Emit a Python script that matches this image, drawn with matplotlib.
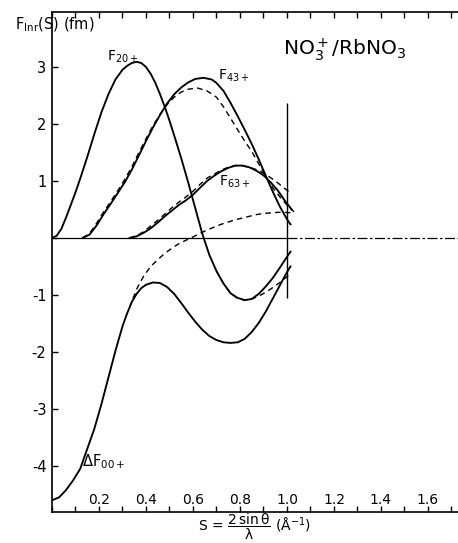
import matplotlib
matplotlib.use("Agg")
import matplotlib.pyplot as plt
from matplotlib.ticker import MultipleLocator, FixedLocator

plt.rcParams['font.family'] = ['DejaVu Sans']
plt.rcParams['mathtext.default'] = 'regular'

# S (1/A) and F (fm)
s_f20 = [0.00, 0.02, 0.04, 0.06, 0.08, 0.10, 0.12, 0.15, 0.18, 0.21, 0.24, 0.27, 0.30, 0.32,
         0.34, 0.36, 0.38, 0.40, 0.42, 0.44, 0.46, 0.48, 0.50, 0.52, 0.55, 0.58, 0.61, 0.64,
         0.67, 0.70, 0.73, 0.76, 0.79, 0.82, 0.85, 0.88, 0.91, 0.94, 0.97, 1.00, 1.015]
f20 = [0.00, 0.04, 0.16, 0.36, 0.58, 0.80, 1.04, 1.42, 1.82, 2.20, 2.52, 2.78, 2.95, 3.02,
       3.07, 3.09, 3.07, 3.00, 2.88, 2.72, 2.52, 2.30, 2.06, 1.80, 1.40, 0.97, 0.52, 0.07,
       -0.30, -0.58, -0.80, -0.97, -1.05, -1.09, -1.07, -0.98, -0.85, -0.70, -0.52, -0.33, -0.24]

s_f20_d = [0.70, 0.73, 0.76, 0.79, 0.82, 0.85, 0.88, 0.91, 0.94, 0.97, 1.00, 1.02]
f20_d = [-0.58, -0.80, -0.97, -1.06, -1.09, -1.07, -1.02, -0.95, -0.87, -0.78, -0.68, -0.62]

s_f43 = [0.13, 0.16, 0.19, 0.22, 0.25, 0.28, 0.31, 0.34, 0.37, 0.40, 0.43, 0.46, 0.49, 0.52,
         0.55, 0.58, 0.61, 0.645, 0.68, 0.70, 0.73, 0.76, 0.79, 0.82, 0.85, 0.88, 0.91, 0.94,
         0.97, 1.00, 1.015]
f43 = [0.00, 0.06, 0.22, 0.42, 0.60, 0.79, 0.98, 1.20, 1.45, 1.70, 1.94, 2.16, 2.36, 2.52,
       2.64, 2.73, 2.79, 2.81, 2.78, 2.72, 2.58, 2.37, 2.14, 1.90, 1.65, 1.38, 1.09, 0.81,
       0.55, 0.33, 0.24]

s_f43_d = [0.13, 0.16, 0.19, 0.22, 0.25, 0.28, 0.31, 0.34, 0.37, 0.40, 0.43, 0.46, 0.49, 0.52,
           0.55, 0.58, 0.62, 0.66, 0.70, 0.73, 0.76, 0.79, 0.82, 0.85, 0.88, 0.91, 0.94, 0.97,
           1.00, 1.03]
f43_d = [0.00, 0.08, 0.26, 0.46, 0.64, 0.83, 1.03, 1.25, 1.50, 1.74, 1.97, 2.17, 2.34, 2.47,
         2.56, 2.61, 2.63, 2.58, 2.47, 2.30, 2.10, 1.90, 1.70, 1.52, 1.30, 1.08, 0.88, 0.72,
         0.58, 0.46]

s_f63 = [0.33, 0.36, 0.39, 0.42, 0.45, 0.48, 0.51, 0.54, 0.57, 0.60, 0.63, 0.66, 0.69, 0.72,
         0.75, 0.78, 0.81, 0.84, 0.87, 0.90, 0.93, 0.96, 0.99, 1.02]
f63 = [0.00, 0.03, 0.09, 0.17, 0.27, 0.38, 0.48, 0.58, 0.66, 0.76, 0.88, 1.00, 1.09, 1.17,
       1.23, 1.27, 1.27, 1.24, 1.18, 1.10, 0.98, 0.84, 0.66, 0.50]

s_f63_d = s_f63
f63_d = [0.00, 0.04, 0.11, 0.21, 0.31, 0.42, 0.53, 0.63, 0.72, 0.82, 0.94, 1.05, 1.12, 1.19,
         1.24, 1.27, 1.27, 1.24, 1.20, 1.14, 1.06, 0.97, 0.87, 0.78]

s_f00 = [0.00, 0.03, 0.06, 0.09, 0.12, 0.15, 0.18, 0.21, 0.24, 0.27, 0.30, 0.32, 0.34, 0.36,
         0.38, 0.40, 0.43, 0.46, 0.49, 0.52, 0.55, 0.58, 0.61, 0.64, 0.67, 0.70, 0.73, 0.76,
         0.79, 0.82, 0.85, 0.88, 0.91, 0.94, 0.97, 1.00, 1.015]
f00 = [-4.60, -4.55, -4.42, -4.25, -4.05, -3.70, -3.35, -2.92, -2.45, -1.98, -1.55, -1.32,
       -1.12, -0.98, -0.88, -0.82, -0.78, -0.79, -0.86, -0.98, -1.14, -1.31, -1.47, -1.61,
       -1.72, -1.79, -1.83, -1.84, -1.83, -1.77, -1.65, -1.49, -1.29, -1.06, -0.83, -0.60, -0.50]

s_f00_d = [0.33, 0.36, 0.39, 0.42, 0.45, 0.48, 0.51, 0.54, 0.57, 0.60, 0.63, 0.66, 0.69, 0.72,
           0.75, 0.78, 0.81, 0.84, 0.87, 0.90, 0.93, 0.96, 0.99, 1.02]
f00_d = [-1.22, -0.90, -0.67, -0.50, -0.38, -0.27, -0.18, -0.10, -0.04, 0.02, 0.08, 0.14,
         0.19, 0.24, 0.28, 0.32, 0.35, 0.38, 0.41, 0.43, 0.44, 0.45, 0.45, 0.44]

x_ticks = [0.2, 0.4, 0.6, 0.8, 1.0, 1.2, 1.4, 1.6]
x_ticklabels = ['0.2', '0.4', '0.6', '0.8', '1.0', '1.2', '1.4', '1.6']
y_ticks = [-4, -3, -2, -1, 0, 1, 2, 3]
y_ticklabels = ['-4', '-3', '-2', '-1', '', '1', '2', '3']

S_CUT = 1.0          # cut-off marker
CUT_RANGE = (-1.05, 2.37)
XMAX = 1.728

fig = plt.figure(figsize=(4.58, 5.43), dpi=100)
ax = fig.add_axes([0.1135, 0.057, 0.8865, 0.921])

solid = dict(color='black', lw=1.35)
dash = dict(color='black', lw=1.0, dashes=(4, 3))

ax.plot(s_f20, f20, **solid)
ax.plot(s_f20_d, f20_d, **dash)
ax.plot(s_f43, f43, **solid)
ax.plot(s_f43_d, f43_d, **dash)
ax.plot(s_f63, f63, **solid)
ax.plot(s_f63_d, f63_d, **dash)
ax.plot(s_f00, f00, **solid)
ax.plot(s_f00_d, f00_d, **dash)

ax.hlines(0, 0, S_CUT, color='black', lw=0.9)
ax.hlines(0, S_CUT, XMAX, color='black', lw=0.9, linestyles=(0, (8, 2, 2, 2)))
ax.vlines(S_CUT, CUT_RANGE[0], CUT_RANGE[1], color='black', lw=1.0)

ax.set_xlim(0, XMAX)
ax.set_ylim(-4.807, 3.965)

ax.spines['right'].set_visible(False)
for sp in ['left', 'bottom', 'top']:
    ax.spines[sp].set_linewidth(1.2)

ax.xaxis.set_major_locator(FixedLocator(x_ticks))
ax.set_xticklabels(x_ticklabels)
ax.xaxis.set_minor_locator(MultipleLocator(0.1))
ax.set_yticks(y_ticks)
ax.set_yticklabels(y_ticklabels)
ax.tick_params(axis='x', which='both', direction='in', top=True, length=4, width=1.0,
               pad=-14, labelsize=10)
ax.tick_params(axis='y', direction='in', length=4, width=1.0, pad=4, labelsize=10.5)

ax.set_xlabel(r'S = $\dfrac{2\,\sin\theta}{\lambda}$ (Å$^{-1}$)', fontsize=10, labelpad=0)

ax.text(0.234, 3.17, r'F$_{20+}$', fontsize=10, ha='left', va='center')
ax.text(0.705, 2.84, r'F$_{43+}$', fontsize=10, ha='left', va='center')
ax.text(0.71, 0.98, r'F$_{63+}$', fontsize=10, ha='left', va='center')
ax.text(0.128, -3.93, r'$\Delta$F$_{00+}$', fontsize=10.5, ha='left', va='center')

fig.text(15 / 458, 1 - 25 / 543, r'F$_{Inr}$(S) (fm)', fontsize=10.5, ha='left', va='center')
fig.text(283 / 458, 1 - 50 / 543, r'NO$_3^+$/RbNO$_3$', fontsize=14.5, ha='left', va='center')

fig.savefig('out.png', dpi=100)
